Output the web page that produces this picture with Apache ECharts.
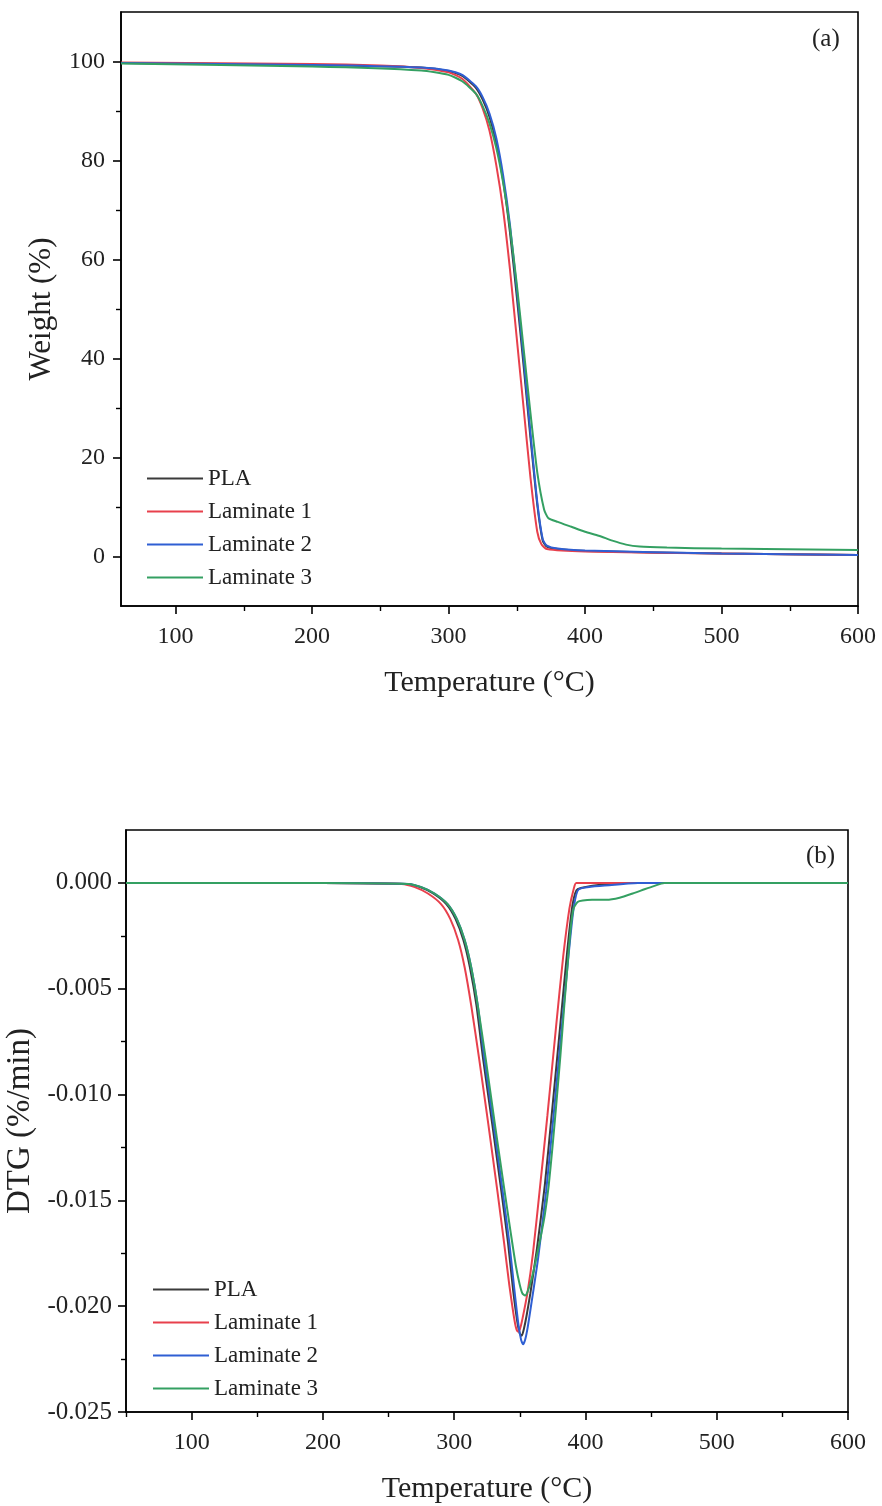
<!DOCTYPE html>
<html><head><meta charset="utf-8">
<script src="https://cdn.jsdelivr.net/npm/echarts@6/dist/echarts.min.js"></script>
<style>html,body{margin:0;padding:0;background:#fff}#c{width:882px;height:1506px}</style>
</head><body><div id="c"></div>
<script>
// ---- names / colours ----
const seriesNames = ['PLA', 'Laminate 1', 'Laminate 2', 'Laminate 3'];
const seriesColors = ['#3b3b3b', '#e8404c', '#2f5fd3', '#34a062'];

// ---- panel (a): TGA weight (%) vs temperature (°C) ----
const tgaPLA = [[60,99.7],[200,99.3],[280,98.8],[300,98.1],[310,97.1],[320,94.7],[325,92.3],[330,88.8],[335,83.5],[340,76],[345,65.5],[350,52.5],[355,38.5],[360,24],[365,10.5],[369,3.2],[372,2.0],[380,1.5],[400,1.1],[500,0.6],[600,0.3]];
const tgaLam1 = [[60,99.8],[200,99.5],[250,99.2],[280,98.7],[300,97.8],[310,96.5],[320,93.5],[325,90.5],[330,86],[335,79],[340,70],[345,58],[350,44],[355,30],[360,16],[365,5],[368,2.5],[372,1.5],[400,1.0],[500,0.6],[600,0.3]];
const tgaLam2 = [[60,99.7],[200,99.3],[280,98.8],[300,98.2],[310,97.3],[320,95],[325,92.8],[330,89.5],[335,84.5],[340,77],[345,67],[350,54],[355,40],[360,25],[365,11],[369,3.5],[372,2.2],[380,1.6],[400,1.2],[500,0.6],[600,0.3]];
const tgaLam3 = [[60,99.6],[200,99.0],[280,98.2],[300,97.3],[310,96.0],[320,93.5],[325,91],[330,87.5],[335,82.5],[340,75.5],[345,66.5],[350,55],[355,42],[360,29],[365,17],[370,9.5],[373,7.8],[380,7],[390,6],[400,5],[410,4.2],[420,3.2],[430,2.4],[440,2.0],[460,1.8],[500,1.6],[600,1.3]];

// ---- panel (b): DTG (%/min) vs temperature (°C) ----
const dtgPLA = [[50,0],[200,0],[264,-0.00005],[274,-0.0002],[284,-0.0005],[294,-0.001],[301,-0.0017],[307,-0.0027],[312,-0.0040],[317,-0.0058],[322,-0.0083],[329,-0.0114],[336,-0.0146],[341,-0.017],[345,-0.0193],[348,-0.0207],[350,-0.0213],[351.5,-0.0214],[353,-0.0211],[355,-0.0205],[358,-0.0194],[363,-0.0173],[369,-0.0143],[375,-0.0105],[381,-0.0066],[386,-0.0033],[390,-0.0011],[394,-0.0003],[430,0],[600,0]];
const dtgLam1 = [[50,0],[200,0],[260,-0.00005],[270,-0.0002],[280,-0.0005],[290,-0.001],[297,-0.0017],[303,-0.0027],[308,-0.0040],[313,-0.0058],[319,-0.0083],[326,-0.0114],[333,-0.0146],[338,-0.017],[342,-0.019],[345,-0.0203],[347,-0.0210],[348.5,-0.0212],[350,-0.0211],[352,-0.0206],[356,-0.0193],[360,-0.0175],[365,-0.0146],[371,-0.0110],[377.6,-0.0068],[383,-0.0035],[387.8,-0.0012],[391,-0.0003],[393,0],[600,0]];
const dtgLam2 = [[50,0],[200,0],[265,-0.00005],[275,-0.0002],[285,-0.0005],[295,-0.001],[302,-0.0017],[308,-0.0027],[313,-0.0040],[318,-0.0058],[323,-0.0083],[330,-0.0114],[337,-0.0146],[342,-0.0170],[346,-0.0193],[349,-0.0209],[351,-0.0216],[352.5,-0.0218],[354,-0.0216],[356,-0.0210],[359,-0.0198],[364,-0.0177],[370,-0.0146],[376,-0.0108],[382,-0.0068],[387,-0.0035],[391,-0.0012],[395,-0.0003],[420,-0.0001],[440,0],[600,0]];
const dtgLam3 = [[50,0],[200,0],[265,-0.00005],[275,-0.0002],[285,-0.0005],[295,-0.001],[302,-0.0017],[308,-0.0027],[313,-0.0040],[318,-0.0058],[324,-0.0083],[331,-0.0114],[338,-0.0144],[343,-0.0165],[347,-0.0181],[350,-0.0190],[352,-0.0194],[354,-0.0195],[356,-0.0193],[359,-0.0187],[362,-0.0179],[366,-0.0167],[369,-0.0157],[372,-0.0143],[375,-0.0124],[378,-0.0103],[381,-0.0081],[384,-0.0057],[387,-0.0034],[389,-0.0020],[391,-0.0012],[394,-0.0009],[398,-0.00083],[405,-0.0008],[416,-0.0008],[426,-0.0007],[436,-0.0005],[445,-0.0003],[452,-0.00015],[460,0],[600,0]];

// ---- tick values ----
const aXTicks = [100,200,300,400,500,600];
const aXMinor = [150,250,350,450,550];
const aYTicks = [0,20,40,60,80,100];
const aYMinor = [10,30,50,70,90];
const bXTicks = [100,200,300,400,500,600];
const bXMinor = [50,150,250,350,450,550];
const bYTicks = [-0.025,-0.020,-0.015,-0.010,-0.005,0.000];
const bYMinor = [-0.0225,-0.0175,-0.0125,-0.0075,-0.0025];

const FONT = '"Liberation Serif", "Times New Roman", serif';
const tgaData = [tgaPLA, tgaLam1, tgaLam2, tgaLam3];
const dtgData = [dtgPLA, dtgLam1, dtgLam2, dtgLam3];

function mainAxis(gridIndex, min, max, ticks, opts, labelOpts, nameSize) {
  return Object.assign({
    type: 'value', gridIndex, min, max,
    splitLine: { show: false },
    axisLine: { show: true, onZero: false, lineStyle: { color: '#000', width: 1.6 } },
    axisTick: { show: true, inside: false, length: 8, customValues: ticks, lineStyle: { color: '#000', width: 1.6 } },
    axisLabel: Object.assign({ show: true, customValues: ticks, color: '#222', fontFamily: FONT, fontSize: 24 }, labelOpts),
    nameLocation: 'middle',
    nameTextStyle: { color: '#222', fontFamily: FONT, fontSize: nameSize }
  }, opts);
}
function minorAxis(gridIndex, min, max, ticks, position) {
  return {
    type: 'value', gridIndex, min, max, position,
    splitLine: { show: false },
    axisLine: { show: false, onZero: false },
    axisTick: { show: true, inside: false, length: 5, customValues: ticks, lineStyle: { color: '#000', width: 1.4 } },
    axisLabel: { show: false }
  };
}

const series = [];
seriesNames.forEach((n, i) => {
  series.push({ name: n, type: 'line', xAxisIndex: 0, yAxisIndex: 0, data: tgaData[i], symbol: 'none', smooth: 0.2,
    lineStyle: { color: seriesColors[i], width: 2 }, itemStyle: { color: seriesColors[i] }, z: 2 + i });
});
seriesNames.forEach((n, i) => {
  series.push({ name: n, type: 'line', xAxisIndex: 2, yAxisIndex: 2, data: dtgData[i], symbol: 'none', smooth: 0.2,
    lineStyle: { color: seriesColors[i], width: 2 }, itemStyle: { color: seriesColors[i] }, z: 2 + i });
});

const legendBase = {
  orient: 'vertical', data: seriesNames, itemWidth: 56, itemHeight: 14, itemGap: 10,
  icon: 'path://M0,6 L56,6 L56,8 L0,8 Z',
  textStyle: { color: '#222', fontFamily: FONT, fontSize: 23 },
  selectedMode: false
};

const option = {
  animation: false,
  backgroundColor: '#fff',
  grid: [
    { left: 121, top: 12, width: 737, height: 594, outerBoundsMode: 'none', containLabel: false, show: true, borderColor: '#000', borderWidth: 1.6, backgroundColor: 'transparent' },
    { left: 126, top: 830, width: 722, height: 582, outerBoundsMode: 'none', containLabel: false, show: true, borderColor: '#000', borderWidth: 1.6, backgroundColor: 'transparent' }
  ],
  xAxis: [
    mainAxis(0, 60, 600, aXTicks, { name: 'Temperature (°C)', nameGap: 62 }, { margin: 19 }, 30),
    minorAxis(0, 60, 600, aXMinor, 'bottom'),
    mainAxis(1, 50, 600, bXTicks, { name: 'Temperature (°C)', nameGap: 62 }, { margin: 19 }, 30),
    minorAxis(1, 50, 600, bXMinor, 'bottom')
  ],
  yAxis: [
    mainAxis(0, -10, 110, aYTicks, { name: 'Weight (%)', nameGap: 64 }, { margin: 16 }, 31),
    minorAxis(0, -10, 110, aYMinor, 'left'),
    mainAxis(1, -0.025, 0.0025, bYTicks, { name: 'DTG (%/min)', nameGap: 84 }, { margin: 14, fontSize: 25, formatter: v => v.toFixed(3) }, 33),
    minorAxis(1, -0.025, 0.0025, bYMinor, 'left')
  ],
  legend: [
    Object.assign({}, legendBase, { left: 142, top: 462 }),
    Object.assign({}, legendBase, { left: 148, top: 1273 })
  ],
  graphic: [
    { type: 'text', left: 812, top: 27, style: { text: '(a)', font: '25px ' + FONT, fill: '#222' } },
    { type: 'text', left: 806, top: 844, style: { text: '(b)', font: '25px ' + FONT, fill: '#222' } }
  ],
  series
};

const chart = echarts.init(document.getElementById('c'), null, { renderer: 'canvas' });
chart.setOption(option);
</script>
</body></html>
